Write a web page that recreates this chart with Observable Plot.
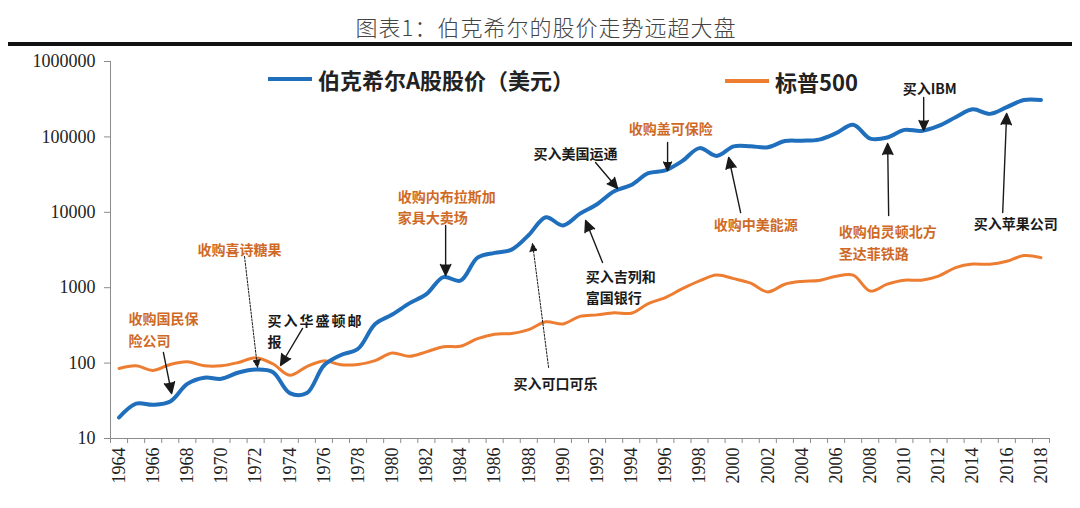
<!DOCTYPE html>
<html><head><meta charset="utf-8">
<script src="https://cdn.jsdelivr.net/npm/d3@7"></script>
<script src="https://cdn.jsdelivr.net/npm/@observablehq/plot@0.6"></script>
<style>
body{margin:0;background:#fff;}
#wrap{position:relative;width:1080px;height:508px;overflow:hidden;background:#fff;}
#chart{position:absolute;left:0;top:0;}
.title{position:absolute;top:11px;left:6px;width:1080px;text-align:center;font:300 22px "Noto Sans CJK SC";color:#444;z-index:2;line-height:30px;letter-spacing:1px}
.rule{position:absolute;left:8px;top:42px;width:1064px;height:4px;background:#111;z-index:2}
.leg{position:absolute;z-index:2;display:flex;align-items:center;font:700 22px "Noto Sans CJK SC";color:#222;line-height:30px;white-space:nowrap}
.leg i{display:inline-block;width:44px;height:4px;margin-right:6px}
</style></head>
<body>
<div id="wrap">
  <div class="title">图表1：伯克希尔的股价走势远超大盘</div>
  <div class="rule"></div>
  <div class="leg" style="left:268px;top:64px"><i style="background:#1f6fbd"></i>伯克希尔A股股价（美元）</div>
  <div class="leg" style="left:725px;top:66px"><i style="background:#ED7D31"></i>标普500</div>
  <div id="chart"></div>
</div>
<script>
const years = d3.range(1964, 2019);
const brk = [19, 29, 28, 31, 53, 64, 62, 75, 82, 76,
  40, 40, 93, 128, 155, 330, 440, 620, 820, 1380,
  1240, 2500, 2900, 3200, 5000, 8600, 6700, 9600, 12800, 19000,
  23000, 33000, 36000, 48000, 71000, 56000, 75000, 75000, 73000, 88000,
  89000, 92000, 112000, 145000, 95000, 98000, 124000, 120000, 140000, 182000,
  232000, 202000, 248000, 308000, 308000];
const sp500 = [85, 92, 80, 96, 104, 92, 92, 102, 118, 98,
  69, 90, 107, 95, 96, 108, 136, 123, 141, 165,
  167, 211, 242, 247, 278, 353, 330, 417, 436, 466,
  459, 616, 741, 970, 1229, 1469, 1320, 1148, 880, 1112,
  1212, 1248, 1418, 1468, 903, 1115, 1258, 1258, 1426, 1848,
  2059, 2044, 2239, 2674, 2507];
const yTicks = [10, 100, 1000, 10000, 100000, 1000000];
const xLabels = d3.range(1964, 2019, 2);
const xBounds = d3.range(1963.5, 2019, 1);

const notes = [
  {label: "收购国民保\n险公司", year: 1964.56, value: 292, kind: "acq"},
  {label: "收购喜诗糖果", year: 1968.6, value: 3311, kind: "acq"},
  {label: "买入华盛顿邮\n报", year: 1972.7, value: 279, kind: "buy"},
  {label: "收购内布拉斯加\n家具大卖场", year: 1980.32, value: 12300, kind: "acq"},
  {label: "买入可口可乐", year: 1987.11, value: 55.3, kind: "buy"},
  {label: "买入吉列和\n富国银行", year: 1991.33, value: 1069, kind: "buy"},
  {label: "买入美国运通", year: 1988.28, value: 62100, kind: "buy"},
  {label: "收购盖可保险", year: 1993.85, value: 133400, kind: "acq"},
  {label: "收购中美能源", year: 1998.83, value: 7100, kind: "acq"},
  {label: "买入IBM", year: 2009.9, value: 452000, kind: "buy"},
  {label: "收购伯灵顿北方\n圣达菲铁路", year: 2006.16, value: 4160, kind: "acq"},
  {label: "买入苹果公司", year: 2014.06, value: 7330, kind: "buy"}
];
const arrows = [
  {x1: 1966.6, y1: 138, x2: 1967.08, y2: 39.5, dashed: false},
  {x1: 1971.35, y1: 2594, x2: 1972.11, y2: 87.4, dashed: true},
  {x1: 1974.75, y1: 288, x2: 1973.46, y2: 92.9, dashed: false},
  {x1: 1983.13, y1: 6683, x2: 1983.13, y2: 1452, dashed: false},
  {x1: 1989.16, y1: 87.4, x2: 1988.22, y2: 3855, dashed: true},
  {x1: 1992.32, y1: 2158, x2: 1991.33, y2: 7780, dashed: false},
  {x1: 1991.91, y1: 45700, x2: 1993.2, y2: 20700, dashed: false},
  {x1: 1996.13, y1: 84300, x2: 1996.13, y2: 35800, dashed: false},
  {x1: 2000.41, y1: 9930, x2: 1999.71, y2: 53300, dashed: false},
  {x1: 2011.13, y1: 333000, x2: 2011.13, y2: 121600, dashed: false},
  {x1: 2009.08, y1: 9080, x2: 2009.02, y2: 81700, dashed: false},
  {x1: 2015.76, y1: 9930, x2: 2015.99, y2: 204000, dashed: false}
];

const BLUE = "#1f6fbd", ORANGE = "#ED7D31", NOTE_OR = "#cf6a26", DARK = "#1a1a1a", AXIS = "#8c8c8c";
const brkData = years.map((year, i) => ({year, value: brk[i]}));
const spData = years.map((year, i) => ({year, value: sp500[i]}));

const chart = Plot.plot({
  width: 1080, height: 508,
  marginTop: 61, marginBottom: 70, marginLeft: 110, marginRight: 31,
  style: {background: "transparent"},
  x: {type: "linear", domain: [1963.5, 2018.5]},
  y: {type: "log", domain: [10, 1000000]},
  marks: [
    Plot.ruleY([10], {stroke: AXIS}),
    Plot.ruleX([1963.5], {stroke: AXIS}),
    Plot.axisY({ticks: yTicks, tickSize: 6, stroke: AXIS, fill: "none", label: null}),
    Plot.axisY({ticks: yTicks, tickSize: 0, tickPadding: 15, tickFormat: d => String(d), fontSize: 18, fontFamily: "Liberation Serif", fill: "#222", label: null}),
    Plot.axisX({ticks: xBounds, tickSize: 5, stroke: AXIS, fill: "none", label: null}),
    Plot.axisX({ticks: xLabels, tickSize: 0, tickPadding: 9, tickRotate: -90, tickFormat: d => String(d), fontSize: 18, fontFamily: "Liberation Serif", fill: "#222", label: null}),
    Plot.line(spData, {x: "year", y: "value", stroke: ORANGE, strokeWidth: 3, curve: "catmull-rom"}),
    Plot.line(brkData, {x: "year", y: "value", stroke: BLUE, strokeWidth: 4, curve: "catmull-rom"}),
    Plot.arrow(arrows.filter(d => !d.dashed), {x1: "x1", y1: "y1", x2: "x2", y2: "y2", stroke: DARK, fill: DARK, strokeWidth: 1.4, headLength: 13, headAngle: 50}),
    Plot.arrow(arrows.filter(d => d.dashed), {x1: "x1", y1: "y1", x2: "x2", y2: "y2", stroke: DARK, fill: DARK, strokeWidth: 1, strokeDasharray: "2,1.5", headLength: 13, headAngle: 50}),
    Plot.text(notes, {x: "year", y: "value", text: "label", fill: d => d.kind === "acq" ? NOTE_OR : DARK, textAnchor: "start", lineAnchor: "middle", lineHeight: 1.55, fontSize: 14, fontWeight: 700, fontFamily: "Noto Sans CJK SC"})
  ]
});
d3.select(chart).selectAll('g[aria-label="arrow"] path').attr("fill", DARK);
d3.select(chart).selectAll('g[aria-label="text"] text').filter(function(){ return this.textContent.includes("华盛顿"); }).attr("letter-spacing", "2px");
document.getElementById("chart").appendChild(chart);
</script>
</body></html>
